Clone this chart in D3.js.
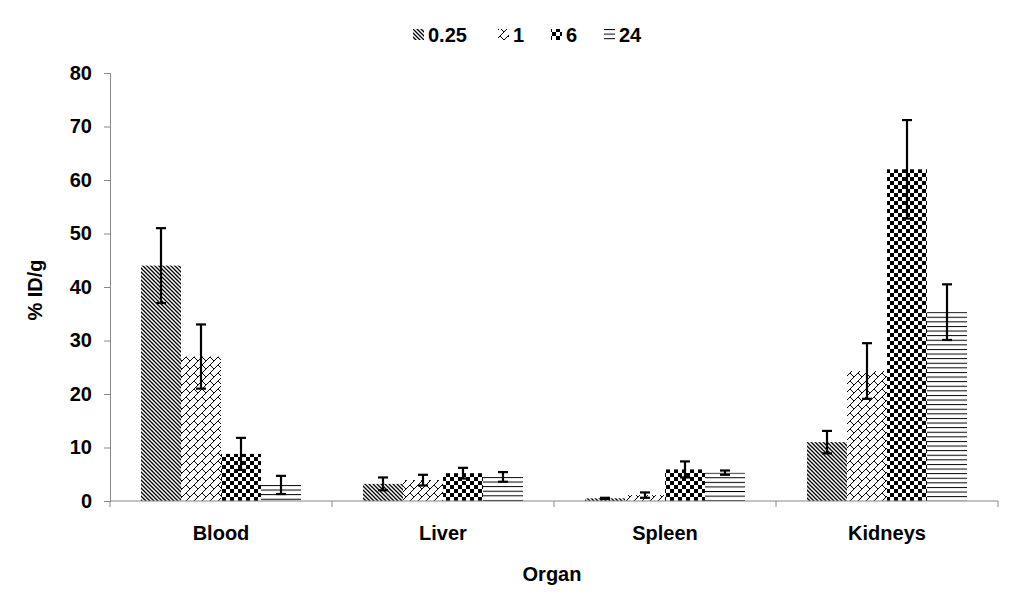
<!DOCTYPE html>
<html>
<head>
<meta charset="utf-8">
<script src="https://cdn.jsdelivr.net/npm/d3@7"></script>
<style>
  body { margin: 0; background: #fff; }
  text { font-family: "Liberation Sans", Arial, sans-serif; font-weight: bold; }
</style>
</head>
<body>
<svg id="chart" width="1023" height="612"></svg>
<script>
// organs on the x axis, one series per time point (h)
const organs = ["Blood", "Liver", "Spleen", "Kidneys"];
const series = ["0.25", "1", "6", "24"];
const values = {
    "0.25": [44, 3.2, 0.5, 11],
    "1":    [27, 3.9, 1.1, 24.3],
    "6":    [8.8, 5.2, 5.9, 62],
    "24":   [3.0, 4.5, 5.3, 35.3]
};
const errors = {
    "0.25": [7, 1.2, 0.1, 2.1],
    "1":    [6, 1.0, 0.5, 5.2],
    "6":    [3, 1.0, 1.5, 9.2],
    "24":   [1.7, 0.9, 0.4, 5.2]
};
const yTicks = [0, 10, 20, 30, 40, 50, 60, 70, 80];

const svg = d3.select("#chart");
const margin = {left: 110, right: 25, top: 73, bottom: 111};
const W = 1023 - margin.left - margin.right;
const H = 612 - margin.top - margin.bottom;
const FS = 20;

const x0 = d3.scaleBand().domain(organs).range([0, W]).paddingInner(0).paddingOuter(0);
const x1 = d3.scaleBand().domain(series).range([0, 160]);
const y = d3.scaleLinear().domain([0, 80]).range([H, 0]);
const groupOffset = (x0.bandwidth() - 160) / 2;

// fill patterns, one per series
const defs = svg.append("defs");

function hatchDiag(id) {
    let p = defs.append("pattern").attr("id", id).attr("patternUnits", "userSpaceOnUse")
        .attr("width", 4).attr("height", 4);
    p.append("rect").attr("width", 4).attr("height", 4).attr("fill", "#fff");
    p.append("path").attr("d", "M-1,-1 L5,5 M-1,3 L1,5 M3,-1 L5,1")
        .attr("stroke", "#000").attr("stroke-width", 1.35);
}
function brick(id) {
    let p = defs.append("pattern").attr("id", id).attr("patternUnits", "userSpaceOnUse")
        .attr("width", 8).attr("height", 8);
    p.append("rect").attr("width", 8).attr("height", 8).attr("fill", "#fff");
    p.append("path").attr("d", "M0,8 L8,0 M4,4 L8,8")
        .attr("stroke", "#000").attr("stroke-width", 1);
}
function checker(id) {
    let p = defs.append("pattern").attr("id", id).attr("patternUnits", "userSpaceOnUse")
        .attr("width", 8).attr("height", 8);
    p.append("rect").attr("width", 8).attr("height", 8).attr("fill", "#fff");
    p.append("rect").attr("width", 4).attr("height", 4).attr("fill", "#000");
    p.append("rect").attr("x", 4).attr("y", 4).attr("width", 4).attr("height", 4).attr("fill", "#000");
}
function horiz(id, y0) {
    // lines start at the top edge of the mark
    let p = defs.append("pattern").attr("id", id).attr("patternUnits", "userSpaceOnUse")
        .attr("y", y0).attr("width", 8).attr("height", 4.6);
    p.append("rect").attr("width", 8).attr("height", 4.6).attr("fill", "#fff");
    p.append("path").attr("d", "M0,0.5 L8,0.5").attr("stroke", "#000").attr("stroke-width", 1);
}
hatchDiag("pat0");
brick("pat1");
checker("pat2");
horiz("pat3", 29);

const g = svg.append("g").attr("transform", "translate(" + margin.left + "," + margin.top + ")");

// bars
series.forEach(function(s, si) {
    g.selectAll(".bar" + si)
        .data(organs)
        .enter().append("rect")
        .attr("x", (d) => x0(d) + groupOffset + x1(s))
        .attr("y", (d, i) => y(values[s][i]))
        .attr("width", x1.bandwidth())
        .attr("height", (d, i) => H - y(values[s][i]))
        .attr("fill", function(d, i) {
            if (si === 3) {
                horiz("pat3_" + i, y(values[s][i]));
                return "url(#pat3_" + i + ")";
            }
            return "url(#pat" + si + ")";
        });
});

// error bars
series.forEach(function(s) {
    organs.forEach(function(o, i) {
        let cx = x0(o) + groupOffset + x1(s) + x1.bandwidth() / 2;
        let top = y(values[s][i] + errors[s][i]);
        let bot = y(values[s][i] - errors[s][i]);
        let eg = g.append("g").attr("stroke", "#000").attr("stroke-width", 2.2);
        eg.append("line").attr("x1", cx).attr("x2", cx).attr("y1", top).attr("y2", bot);
        eg.append("line").attr("x1", cx - 5).attr("x2", cx + 5).attr("y1", top).attr("y2", top);
        eg.append("line").attr("x1", cx - 5).attr("x2", cx + 5).attr("y1", bot).attr("y2", bot);
    });
});

// y axis
const yAxis = g.append("g")
    .call(d3.axisLeft(y).tickValues(yTicks).tickSize(6).tickPadding(12));
yAxis.select(".domain").attr("stroke", "#888");
yAxis.selectAll(".tick line").attr("stroke", "#888");
yAxis.selectAll(".tick text").attr("font-size", FS).attr("fill", "#000");

// x axis with ticks at category boundaries
const xAxis = g.append("g").attr("transform", "translate(0," + H + ")");
xAxis.append("line").attr("x1", 0).attr("x2", W).attr("stroke", "#888");
xAxis.selectAll(".bound")
    .data(organs.concat(["end"]))
    .enter().append("line")
    .attr("x1", (d, i) => i * x0.bandwidth())
    .attr("x2", (d, i) => i * x0.bandwidth())
    .attr("y1", 0).attr("y2", 6)
    .attr("stroke", "#888");
xAxis.selectAll(".lbl")
    .data(organs)
    .enter().append("text")
    .attr("x", (d) => x0(d) + x0.bandwidth() / 2)
    .attr("y", 39)
    .attr("text-anchor", "middle")
    .attr("font-size", FS)
    .text((d) => d);

// axis titles
svg.append("text")
    .attr("x", margin.left + W / 2 - 2)
    .attr("y", 581)
    .attr("text-anchor", "middle")
    .attr("font-size", FS)
    .text("Organ");

svg.append("text")
    .attr("transform", "translate(42,290) rotate(-90)")
    .attr("text-anchor", "middle")
    .attr("font-size", FS)
    .text("% ID/g");

// legend
const legendX = [413, 498, 551, 604];
const legend = svg.append("g");
series.forEach(function(s, si) {
    legend.append("rect")
        .attr("x", legendX[si]).attr("y", 29)
        .attr("width", 11).attr("height", 11)
        .attr("fill", "url(#pat" + si + ")");
    legend.append("text")
        .attr("x", legendX[si] + 15).attr("y", 42)
        .attr("font-size", FS)
        .text(s);
});
</script>
</body>
</html>
